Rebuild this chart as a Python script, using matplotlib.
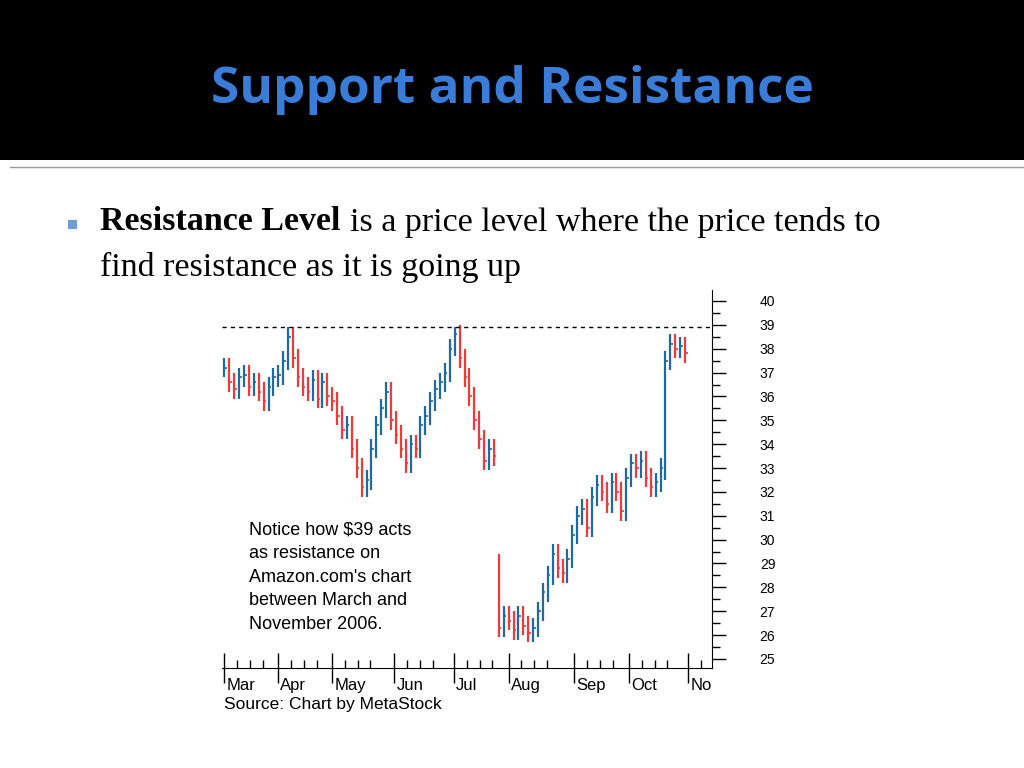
import matplotlib
matplotlib.use("Agg")
import matplotlib.pyplot as plt
from matplotlib.patches import Rectangle
from matplotlib.ticker import MultipleLocator, FixedLocator, NullFormatter

# daily closes (one bar per ~2 trading days), Amazon Mar-Nov 2006
closes = [37.2, 36.6, 36.3, 36.8, 36.9, 36.4, 36.6, 36.2, 35.8, 36.4, 36.8,
          36.9, 37.5, 38.5, 37.6,
          36.8, 36.4, 36.2, 36.7, 35.9, 36.6, 36.0,
          35.8, 35.2, 34.6, 34.8, 33.8, 33.0, 32.2, 32.5, 33.8,
          34.8, 35.5, 36.2, 35.0,
          34.4, 33.8, 33.2, 34.0, 33.8, 34.8,
          35.2, 35.8, 36.3, 36.6, 37.0, 38.0, 38.6,
          37.6, 36.8, 36.0, 35.0, 34.2, 33.3, 33.8, 33.5,
          26.3, 26.8, 26.6, 26.2, 26.8, 26.4, 26.1, 26.3,
          27.0, 27.8, 28.5, 29.4, 28.8, 28.6, 29.2, 30.2, 31.0,
          31.3, 30.5, 31.8, 32.3, 32.0, 31.5, 32.4, 32.0, 31.2, 32.6,
          33.2, 33.0, 33.3, 32.6, 32.2, 32.4,
          33.0, 37.5, 38.2, 38.0, 38.1, 37.8]
wicks = [0.4] * len(closes)
wicks[13] = 0.4
wicks[47] = 0.3
gap_opens = {56: 29.0, 90: 32.9}
month_ticks = [0, 11, 22, 34.7, 46.9, 58, 71.4, 82.6, 94.7]
month_labels = ["Mar", "Apr", "May", "Jun", "Jul", "Aug", "Sep", "Oct", "No"]
resistance = 38.9
note = "Notice how $39 acts\nas resistance on\nAmazon.com's chart\nbetween March and\nNovember 2006."

fig = plt.figure(figsize=(10.24, 7.68), dpi=100)
fig.patch.set_facecolor("white")

# slide header
fig.add_artist(Rectangle((0, 1 - 160 / 768), 1, 160 / 768, transform=fig.transFigure,
                         facecolor="black", edgecolor="none"))
fig.text(0.5, 1 - 90 / 768, "Support and Resistance", ha="center", va="center",
         color="#3a7dd8", fontsize=37, fontweight="bold", family="Open Sans")
fig.add_artist(plt.Line2D([10 / 1024, 1], [1 - 167 / 768] * 2, transform=fig.transFigure,
                          color="#999999", lw=1))

# bullet
fig.add_artist(Rectangle((68 / 1024, 1 - 229 / 768), 9 / 1024, 9 / 768, transform=fig.transFigure,
                         facecolor="#6f9fd8", edgecolor="none"))
t1 = fig.text(100 / 1024, 1 - 222 / 768, "Resistance Level", ha="left", va="center",
              fontsize=24.5, fontweight="bold", family="Liberation Serif")
r = fig.canvas.get_renderer()
bb = t1.get_window_extent(r)
fig.text(bb.x1 / 1024 + 0.009, 1 - 222 / 768, "is a price level where the price tends to",
         ha="left", va="center", fontsize=24.5, family="Liberation Serif")
fig.text(100 / 1024, 1 - 267 / 768, "find resistance as it is going up",
         ha="left", va="center", fontsize=24.5, family="Liberation Serif")

# price chart
ax = fig.add_axes([222 / 1024, 1 - 668 / 768, 490 / 1024, 378 / 768])
blue, red = "#1f6aa5", "#f03a3a"
prev = closes[0]
for i, c in enumerate(closes):
    o = gap_opens.get(i, prev)
    col = blue if c >= o else red
    hi = max(o, c) + wicks[i]
    lo = min(o, c) - wicks[i]
    ax.vlines(i, lo, hi, color=col, lw=1.6)
    ax.hlines(c, i, i + 0.5, color=col, lw=1.2)
    prev = c
ax.axhline(resistance, color="black", ls=(0, (3, 3)), lw=1)

ax.set_xlim(-0.5, 99.5)
ax.set_ylim(24.62, 40.46)
for s in ["top", "left"]:
    ax.spines[s].set_visible(False)
ax.yaxis.tick_right()
ax.yaxis.set_major_locator(MultipleLocator(1))
ax.yaxis.set_minor_locator(MultipleLocator(0.5))
ax.tick_params(axis="y", which="major", length=10, width=1, labelsize=10, pad=30)
ax.tick_params(axis="y", which="minor", length=6, width=1)
for lab in ax.get_yticklabels():
    lab.set_family("Liberation Sans")
    lab.set_ha("center")

ax.xaxis.set_major_locator(FixedLocator(month_ticks))
ax.xaxis.set_minor_locator(FixedLocator([m + k * 2.6 for m in month_ticks for k in (1, 2, 3)]))
ax.xaxis.set_major_formatter(NullFormatter())
ax.tick_params(axis="x", which="major", direction="inout", length=22, width=1)
ax.tick_params(axis="x", which="minor", direction="in", length=6, width=1)
for m, lab in zip(month_ticks, month_labels):
    ax.text(m + 0.4, -0.045, lab, transform=ax.get_xaxis_transform(), ha="left", va="center",
            fontsize=12, family="Liberation Sans")
ax.text(0.005, -0.097, "Source: Chart by MetaStock", transform=ax.transAxes, ha="left",
        va="center", fontsize=12.5, family="Liberation Sans")
ax.text(5, 30.75, note, ha="left", va="top", fontsize=13, family="Liberation Sans",
        linespacing=1.5)

fig.savefig("out.png", dpi=100)
